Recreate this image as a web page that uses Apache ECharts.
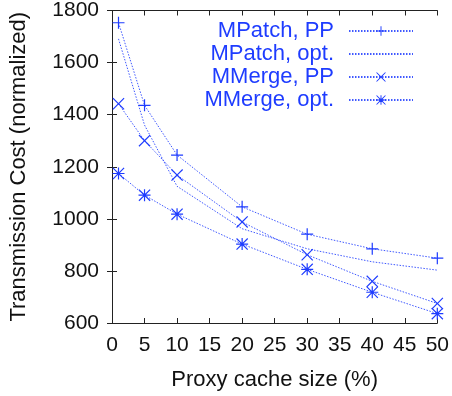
<!DOCTYPE html>
<html>
<head>
<meta charset="utf-8">
<script src="https://cdn.jsdelivr.net/npm/echarts@6/dist/echarts.min.js"></script>
<style>
  html, body { margin: 0; padding: 0; background: #fff; }
  #chart { width: 452px; height: 396px; }
</style>
</head>
<body>
<div id="chart"></div>
<script>
// data
const cacheSizes = [1, 5, 10, 20, 30, 40, 50];
const mpatchPP = [1753, 1436, 1245, 1046, 941, 885, 849];
const mpatchOpt = [1691, 1360, 1125, 962, 885, 835, 803];
const mmergePP = [1442, 1300, 1168, 988, 862, 760, 675];
const mmergeOpt = [1174, 1091, 1018, 903, 806, 718, 636];
const seriesNames = ['MPatch, PP', 'MPatch, opt.', 'MMerge, PP', 'MMerge, opt.'];

const blue = '#1e3cff';
const font = 'Liberation Sans, Arial, Helvetica, sans-serif';

// marker shapes (gnuplot style)
const plusPath = 'M45 0 H55 V45 H100 V55 H55 V100 H45 V55 H0 V45 H45 Z';
const crossPath = 'M0 7 L7 0 L50 43 L93 0 L100 7 L57 50 L100 93 L93 100 L50 57 L7 100 L0 93 L43 50 Z';
const starPath = plusPath + ' ' + crossPath;
const emptyPath = 'M0 0 H1 V1 H0 Z';

const pairs = (ys) => cacheSizes.map((x, i) => [x, ys[i]]);

const makeSeries = (name, ys, symbol, size, markColor) => ({
  name: name,
  type: 'line',
  data: pairs(ys),
  symbol: 'path://' + symbol,
  symbolSize: size,
  lineStyle: { color: blue, width: 1, type: [1.5, 1.5], opacity: 0.85 },
  itemStyle: { color: markColor },
  emphasis: { disabled: true },
  animation: false
});

// one legend per row so the keys line up on the right
const legendRows = [15, 38, 61, 84];
const legends = seriesNames.map((name, i) => ({
  orient: 'vertical',
  align: 'right',
  right: 33,
  top: legendRows[i],
  itemWidth: 64,
  itemHeight: 12,
  selectedMode: false,
  textStyle: { color: blue, fontSize: 22, fontFamily: font, padding: [18, 10, 0, 0] },
  data: [name]
}));

const chart = echarts.init(document.getElementById('chart'));

const option = {
  backgroundColor: '#fff',
  grid: { left: 110, right: 12, top: 10, bottom: 73 },
  legend: legends,
  xAxis: [{
    type: 'value',
    min: 0, max: 50, interval: 5,
    name: 'Proxy cache size (%)',
    nameLocation: 'middle',
    nameGap: 46,
    nameTextStyle: { color: '#111', fontSize: 22, fontFamily: font },
    axisLine: { lineStyle: { color: '#222', width: 1 } },
    axisTick: { inside: true, length: 5, lineStyle: { color: '#222' } },
    axisLabel: { color: '#111', fontSize: 21, fontFamily: font, margin: 12 },
    splitLine: { show: false }
  }, {
    type: 'value', position: 'top',
    min: 0, max: 50, interval: 5,
    axisLine: { show: true, lineStyle: { color: '#222', width: 1 } },
    axisTick: { inside: true, length: 5, lineStyle: { color: '#222' } },
    axisLabel: { show: false },
    splitLine: { show: false }
  }],
  yAxis: [{
    type: 'value',
    min: 600, max: 1800, interval: 200,
    name: 'Transmission Cost (normalized)',
    nameLocation: 'middle',
    nameGap: 82,
    nameTextStyle: { color: '#111', fontSize: 22, fontFamily: font },
    axisLine: { show: true, lineStyle: { color: '#222', width: 1 } },
    axisTick: { show: true, inside: true, length: 5, lineStyle: { color: '#222' } },
    axisLabel: { color: '#111', fontSize: 21, fontFamily: font, margin: 13, formatter: (v) => String(v) },
    splitLine: { show: false }
  }, {
    type: 'value', position: 'right',
    min: 600, max: 1800, interval: 200,
    axisLine: { show: true, lineStyle: { color: '#222', width: 1 } },
    axisTick: { show: true, inside: true, length: 5, lineStyle: { color: '#222' } },
    axisLabel: { show: false },
    splitLine: { show: false }
  }],
  series: [
    makeSeries(seriesNames[0], mpatchPP, plusPath, 12, blue),
    makeSeries(seriesNames[1], mpatchOpt, emptyPath, 1, 'rgba(0,0,0,0)'),
    makeSeries(seriesNames[2], mmergePP, crossPath, 12, blue),
    makeSeries(seriesNames[3], mmergeOpt, starPath, 12, blue)
  ]
};

chart.setOption(option);
</script>
</body>
</html>
